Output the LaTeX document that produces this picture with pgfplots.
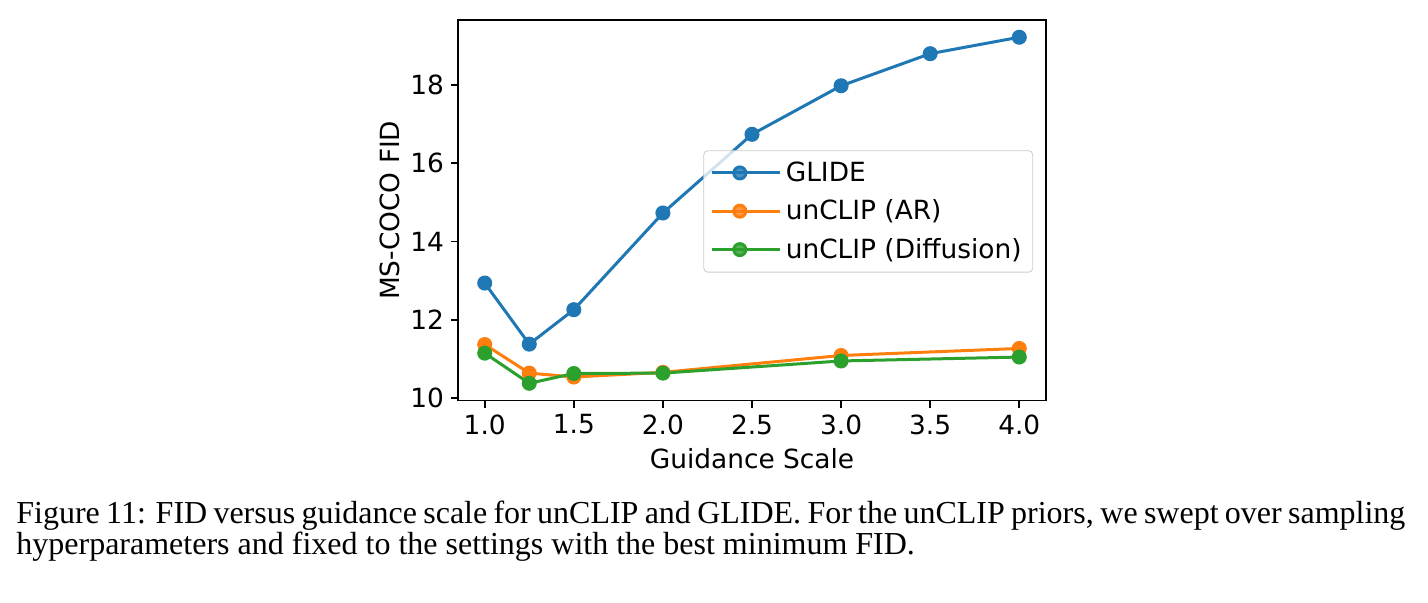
\documentclass[border=0pt]{standalone}
\usepackage{fontspec}
\setmainfont{DejaVu Sans}
\newfontfamily\capfont{Liberation Serif}
\usepackage{pgfplots}
\pgfplotsset{compat=1.18}
\definecolor{tabblue}{HTML}{1F77B4}
\definecolor{taborange}{HTML}{FF7F0E}
\definecolor{tabgreen}{HTML}{2CA02C}
\begin{document}
\begin{tikzpicture}
\useasboundingbox (0,0) rectangle (714pt,301pt);
\begin{axis}[
  at={(229pt,100.75pt)}, anchor=south west,
  scale only axis, width=294pt, height=190.25pt,
  xmin=0.85, xmax=4.15, ymin=9.94, ymax=19.66,
  xtick={1.0,1.5,2.0,2.5,3.0,3.5,4.0},
  ytick={10,12,14,16,18},
  xticklabel style={/pgf/number format/.cd,fixed,fixed zerofill,precision=1},
  /pgf/number format/assume math mode=true,
  tick align=outside, major tick length=3.5pt,
  tick style={line width=0.8pt, black},
  xtick pos=bottom, ytick pos=left,
  axis line style={line width=0.8pt},
  font=\fontsize{13.2}{15.5}\selectfont,
  xlabel={Guidance Scale}, ylabel={MS-COCO FID},
  ylabel shift=-1.5pt,
  legend style={at={(0.978,0.497)}, anchor=east, draw=black!20, rounded corners=2pt,
    fill=white, fill opacity=0.8, text opacity=1, font=\fontsize{13.2}{15.5}\selectfont,
    row sep=3.7pt, inner sep=3.5pt},
  legend cell align=left,
  legend image code/.code={\draw[mark repeat=2,mark phase=2,#1] plot coordinates {(0pt,0pt) (13.75pt,0pt) (27.5pt,0pt)};
    \path (0pt,0pt) -- (34pt,0pt);},
  every axis plot/.append style={line width=1.5pt, mark=*, mark size=3pt},
]
\addplot[tabblue, mark options={fill=tabblue, draw=tabblue}] coordinates {
(1.0,12.94) (1.25,11.38) (1.5,12.26) (2.0,14.73) (2.5,16.74) (3.0,17.98) (3.5,18.80) (4.0,19.22)};
\addlegendentry{GLIDE}
\addplot[taborange, mark options={fill=taborange, draw=taborange}] coordinates {
(1.0,11.37) (1.25,10.64) (1.5,10.54) (2.0,10.66) (3.0,11.09) (4.0,11.27)};
\addlegendentry{unCLIP (AR)}
\addplot[tabgreen, mark options={fill=tabgreen, draw=tabgreen}] coordinates {
(1.0,11.15) (1.25,10.38) (1.5,10.63) (2.0,10.64) (3.0,10.95) (4.0,11.05)};
\addlegendentry{unCLIP (Diffusion)}
\end{axis}
\node[anchor=base west, inner sep=0pt, font=\capfont\fontsize{16}{15}\selectfont] at (8pt,39.5pt)
  {\makebox[694.5pt][s]{Figure 11: FID versus guidance scale for unCLIP and GLIDE. For the unCLIP priors, we swept over sampling}};
\node[anchor=base west, inner sep=0pt, font=\capfont\fontsize{16}{15}\selectfont] at (8pt,24pt)
  {hyperparameters and fixed to the settings with the best minimum FID.};
\end{tikzpicture}
\end{document}
